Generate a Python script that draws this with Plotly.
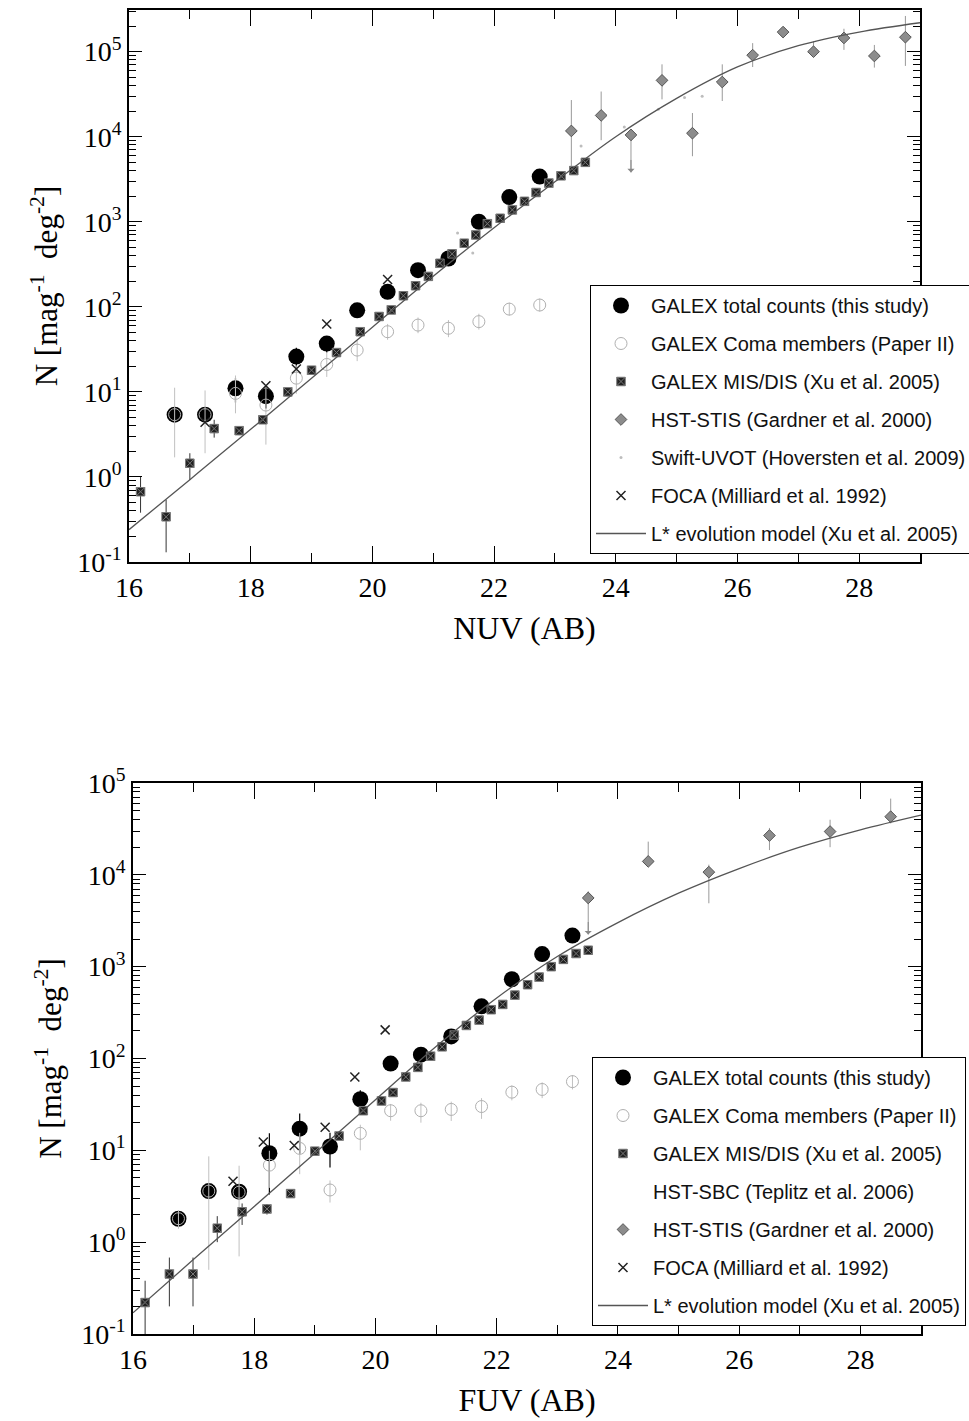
import math
import plotly.graph_objects as go

# ---------------- NUV (top panel) ----------------
nuv_total_x = [16.75, 17.25, 17.75, 18.25, 18.75, 19.25, 19.75, 20.25, 20.75, 21.25, 21.75, 22.25, 22.75]
nuv_total_y = [5.4, 5.4, 11, 8.9, 26, 37, 91, 150, 270, 370, 1000, 1950, 3400]
nuv_total_err = [1.0, 1.0, 3.5, 2.5, 7, 8, 15, 20, 30, 40, 80, 120, 200]

nuv_coma_x = [16.75, 17.25, 17.75, 18.25, 18.75, 19.25, 19.75, 20.25, 20.75, 21.25, 21.75, 22.25, 22.75]
nuv_coma_y = [5.4, 5.4, 9.6, 7.0, 14.5, 21, 31, 51, 61, 56, 67, 94, 105]
nuv_coma_plus = [5.8, 5.0, 6.0, 5.0, 6.0, 8.0, 9.0, 12, 14, 14, 16, 18, 20]
nuv_coma_minus = [3.7, 3.5, 4.0, 4.6, 5.0, 6.0, 8.0, 10, 12, 12, 13, 15, 17]

nuv_xu_x = [16.19, 16.61, 17.0, 17.4, 17.81, 18.2, 18.61, 19.0, 19.41, 19.8, 20.11, 20.31, 20.51, 20.71,
            20.92, 21.11, 21.31, 21.51, 21.70, 21.89, 22.1, 22.3, 22.5, 22.69, 22.9, 23.1, 23.31, 23.5]
nuv_xu_y = [0.67, 0.34, 1.45, 3.7, 3.5, 4.7, 10, 18, 29, 51, 77, 92, 135, 177,
            228, 325, 420, 560, 700, 950, 1100, 1380, 1740, 2210, 2850, 3470, 4000, 5000]
nuv_xu_plus = [0.33, 0.20, 0.45, 1.0, 0.4, 0.5, 0.8, 1.2, 2, 3, 4, 5, 7, 9,
               11, 15, 20, 25, 30, 40, 45, 55, 70, 90, 110, 140, 160, 200]
nuv_xu_minus = [0.29, 0.21, 0.53, 0.8, 0.4, 0.5, 0.8, 1.2, 2, 3, 4, 5, 7, 9,
                11, 15, 20, 25, 30, 40, 45, 55, 70, 90, 110, 140, 160, 200]

nuv_hst_x = [23.27, 23.76, 24.25, 24.76, 25.26, 25.75, 26.25, 26.75, 27.25, 27.75, 28.25, 28.76]
nuv_hst_y = [11700, 17800, 10500, 46000, 11000, 44000, 91000, 170000, 100000, 145000, 89000, 148000]
nuv_hst_hi = [27000, 34000, 10500, 71000, 19000, 71000, 126000, 190000, 132000, 186000, 120000, 263000]
nuv_hst_lo = [4500, 9100, 3800, 27500, 5900, 26300, 66000, 150000, 87000, 105000, 65000, 68000]
nuv_hst_limits = [24.25]  # upper limits (arrows)

nuv_swift_x = [21.4, 21.65, 23.43, 24.14, 24.7, 25.13, 25.42]
nuv_swift_y = [740, 430, 7800, 13000, 21000, 29000, 30000]

nuv_foca_x = [17.25, 18.25, 18.75, 19.25, 20.25]
nuv_foca_y = [4.4, 11.8, 18.6, 63, 210]

nuv_model_x = [16, 17, 18, 19, 20, 21, 22, 23, 24, 25, 26, 27, 28, 29]
nuv_model_y = [0.24, 0.93, 3.63, 14.5, 57.5, 229, 851, 2950, 10000, 28200, 66100, 117500, 170000, 219000]

# ---------------- FUV (bottom panel) ----------------
fuv_total_x = [16.75, 17.25, 17.75, 18.25, 18.75, 19.25, 19.75, 20.25, 20.75, 21.25, 21.75, 22.25, 22.75, 23.25]
fuv_total_y = [1.8, 3.6, 3.55, 9.3, 17.2, 11, 36, 88, 110, 174, 370, 730, 1370, 2180]
fuv_total_err = [0.2, 0.3, 0.3, 6, 8, 4.5, 9, 15, 15, 20, 40, 60, 100, 150]

fuv_coma_x = [16.75, 17.25, 17.75, 18.25, 18.75, 19.25, 19.75, 20.25, 20.75, 21.25, 21.75, 22.25, 22.75, 23.25]
fuv_coma_y = [1.8, 3.6, 3.5, 6.9, 10.5, 3.7, 15.3, 27, 27, 27.9, 30, 43, 46, 56]
fuv_coma_plus = [0.4, 5.0, 3.3, 3.0, 5.0, 1.0, 3.7, 5.0, 6.0, 6.0, 7.0, 8.0, 9.0, 10]
fuv_coma_minus = [0.4, 3.1, 2.8, 3.0, 5.0, 1.0, 5.3, 6.0, 7.0, 7.0, 8.0, 8.0, 9.0, 10]

fuv_xu_x = [16.2, 16.6, 16.99, 17.39, 17.8, 18.21, 18.6, 19.0, 19.4, 19.8, 20.1, 20.29, 20.5, 20.7,
            20.91, 21.1, 21.3, 21.5, 21.71, 21.91, 22.1, 22.3, 22.51, 22.7, 22.9, 23.1, 23.31, 23.51]
fuv_xu_y = [0.22, 0.45, 0.45, 1.42, 2.14, 2.3, 3.38, 9.8, 14.3, 27, 34.5, 42.6, 63, 80,
            106, 134, 180, 229, 262, 340, 388, 490, 636, 770, 1000, 1200, 1390, 1510]
fuv_xu_plus = [0.16, 0.23, 0.23, 0.5, 0.5, 0.3, 0.3, 0.8, 1.0, 2, 2.5, 3, 4, 5,
               6, 8, 10, 12, 14, 18, 20, 25, 30, 35, 45, 55, 60, 70]
fuv_xu_minus = [0.12, 0.25, 0.25, 0.42, 0.6, 0.3, 0.3, 0.8, 1.0, 2, 2.5, 3, 4, 5,
                6, 8, 10, 12, 14, 18, 20, 25, 30, 35, 45, 55, 60, 70]

fuv_sbc_x = [None]  # HST-SBC: listed in legend, no visible points
fuv_sbc_y = [None]

fuv_hst_x = [23.51, 24.5, 25.5, 26.5, 27.5, 28.5]
fuv_hst_y = [5600, 14000, 10700, 26800, 29600, 43000]
fuv_hst_hi = [6600, 23000, 12900, 32400, 39800, 67600]
fuv_hst_lo = [2240, 14000, 4900, 18600, 20000, 36300]
fuv_hst_limits = [23.51]

fuv_foca_x = [17.65, 18.15, 18.66, 19.17, 19.66, 20.16]
fuv_foca_y = [4.6, 12.3, 11.3, 17.8, 63, 205]

fuv_model_x = [16, 17, 18, 19, 20, 21, 22, 23, 24, 25, 26, 27, 28, 29]
fuv_model_y = [0.17, 0.65, 2.45, 9.3, 35.5, 135, 457, 1290, 3020, 6310, 11700, 20000, 30900, 44700]

x_ticks = [16, 18, 20, 22, 24, 26, 28]
x_minor = [17, 19, 21, 23, 25, 27, 29]
y_exponents_top = [-1, 0, 1, 2, 3, 4, 5]
y_exponents_bot = [-1, 0, 1, 2, 3, 4, 5]

W, H = 969, 1421
SERIF = "Liberation Serif"
SANS = "Liberation Sans"

fig = go.Figure()


def add_panel(xa, ya, leg, total, coma, xu, hst, foca, model, extra_swift=None, sbc=None):
    tx, ty, te = total
    cx, cy, cp, cm = coma
    ux, uy, up, um = xu
    hx, hy, hhi, hlo = hst
    fx, fy = foca
    mx, my = model
    common = dict(xaxis=xa, yaxis=ya, legend=leg)

    fig.add_trace(go.Scatter(
        x=tx, y=ty, mode="markers", name="GALEX total counts (this study)",
        legendgroup=leg + "a",
        marker=dict(symbol="circle", size=16, color="black"),
        error_y=dict(type="data", array=te, color="black", thickness=1.2, width=0),
        **common))
    fig.add_trace(go.Scatter(
        x=cx, y=cy, mode="markers", name="GALEX Coma members (Paper II)",
        legendgroup=leg + "b",
        marker=dict(symbol="circle-open", size=12, color="#b0b0b0", line=dict(width=1)),
        error_y=dict(type="data", symmetric=False, array=cp, arrayminus=cm,
                     color="#c0c0c0", thickness=1, width=0),
        **common))
    fig.add_trace(go.Scatter(
        x=ux, y=uy, mode="markers", name="GALEX MIS/DIS (Xu et al. 2005)",
        legendgroup=leg + "c",
        marker=dict(symbol="square-x", size=8.5, color="#222222", line=dict(width=1, color="#777777")),
        error_y=dict(type="data", symmetric=False, array=up, arrayminus=um,
                     color="#333333", thickness=1, width=0),
        **common))
    if sbc is not None:
        fig.add_trace(go.Scatter(
            x=sbc[0], y=sbc[1], mode="markers", name="HST-SBC (Teplitz et al. 2006)",
            legendgroup=leg + "d",
            marker=dict(symbol="circle", size=6, color="white"),
            **common))
    hp = [max(h - v, 0) for h, v in zip(hhi, hy)]
    hm = [max(v - l, 0) for l, v in zip(hlo, hy)]
    fig.add_trace(go.Scatter(
        x=hx, y=hy, mode="markers", name="HST-STIS (Gardner et al. 2000)",
        legendgroup=leg + "e",
        marker=dict(symbol="diamond", size=9, color="#8c8c8c", line=dict(width=1, color="#555555")),
        error_y=dict(type="data", symmetric=False, array=hp, arrayminus=hm,
                     color="#999999", thickness=1, width=0),
        **common))
    if extra_swift is not None:
        fig.add_trace(go.Scatter(
            x=extra_swift[0], y=extra_swift[1], mode="markers",
            name="Swift-UVOT (Hoversten et al. 2009)",
            legendgroup=leg + "f",
            marker=dict(symbol="circle", size=3, color="#bdbdbd"),
            **common))
    fig.add_trace(go.Scatter(
        x=fx, y=fy, mode="markers", name="FOCA (Milliard et al. 1992)",
        legendgroup=leg + "g",
        marker=dict(symbol="x-thin-open", size=9, color="#222222", line=dict(width=1.5, color="#222222")),
        **common))
    fig.add_trace(go.Scatter(
        x=mx, y=my, mode="lines", name="L* evolution model (Xu et al. 2005)",
        legendgroup=leg + "h",
        line=dict(color="#555555", width=1.3, shape="spline", smoothing=1.0),
        **common))


add_panel("x", "y", "legend",
          (nuv_total_x, nuv_total_y, nuv_total_err),
          (nuv_coma_x, nuv_coma_y, nuv_coma_plus, nuv_coma_minus),
          (nuv_xu_x, nuv_xu_y, nuv_xu_plus, nuv_xu_minus),
          (nuv_hst_x, nuv_hst_y, nuv_hst_hi, nuv_hst_lo),
          (nuv_foca_x, nuv_foca_y),
          (nuv_model_x, nuv_model_y),
          extra_swift=(nuv_swift_x, nuv_swift_y))

add_panel("x2", "y2", "legend2",
          (fuv_total_x, fuv_total_y, fuv_total_err),
          (fuv_coma_x, fuv_coma_y, fuv_coma_plus, fuv_coma_minus),
          (fuv_xu_x, fuv_xu_y, fuv_xu_plus, fuv_xu_minus),
          (fuv_hst_x, fuv_hst_y, fuv_hst_hi, fuv_hst_lo),
          (fuv_foca_x, fuv_foca_y),
          (fuv_model_x, fuv_model_y),
          sbc=(fuv_sbc_x, fuv_sbc_y))

# upper-limit arrows
annotations = []
for lim_list, hx, hlo, xr, yr in [(nuv_hst_limits, nuv_hst_x, nuv_hst_lo, "x", "y"),
                                  (fuv_hst_limits, fuv_hst_x, fuv_hst_lo, "x2", "y2")]:
    for xv in lim_list:
        i = hx.index(xv)
        annotations.append(dict(x=xv, y=math.log10(hlo[i]), xref=xr, yref=yr, text="",
                                showarrow=True, ax=0, ay=-14, arrowhead=1, arrowsize=1.2,
                                arrowwidth=1, arrowcolor="#888888"))


def xaxis_cfg(dom, anchor, title):
    return dict(domain=dom, anchor=anchor, range=[16, 29], automargin=False,
                tickmode="array", tickvals=x_ticks, ticktext=[str(v) for v in x_ticks],
                ticks="inside", ticklen=16, tickwidth=1.2, tickcolor="black",
                minor=dict(tickmode="array", tickvals=x_minor, ticks="inside", ticklen=9,
                           tickwidth=1.2, tickcolor="black", showgrid=False),
                showline=True, linecolor="black", linewidth=1.5, mirror="allticks",
                showgrid=False, zeroline=False,
                tickfont=dict(family=SERIF, size=28, color="black"),
                title=dict(text=title, font=dict(family=SERIF, size=32, color="black"), standoff=14))


def yaxis_cfg(dom, anchor, rng, exps):
    minor_vals = [m * 10 ** k for k in range(exps[0], exps[-1] + 1) for m in range(2, 10)]
    return dict(domain=dom, anchor=anchor, type="log", range=rng, automargin=False,
                tickmode="array", tickvals=[10 ** k for k in exps],
                ticktext=["10<sup>%d</sup>" % k for k in exps],
                ticks="inside", ticklen=13, tickwidth=1.2, tickcolor="black",
                minor=dict(tickmode="array", tickvals=minor_vals, ticks="inside", ticklen=7,
                           tickwidth=1, tickcolor="black", showgrid=False),
                showline=True, linecolor="black", linewidth=1.5, mirror="allticks",
                showgrid=False, zeroline=False,
                tickfont=dict(family=SERIF, size=28, color="black"),
                title=dict(text="N [mag<sup>-1</sup>  deg<sup>-2</sup>]",
                           font=dict(family=SERIF, size=31, color="black"), standoff=10))


legend_common = dict(xanchor="left", yanchor="top", bgcolor="white", bordercolor="black",
                     borderwidth=1, font=dict(family=SANS, size=20, color="#111111"),
                     tracegroupgap=9, itemwidth=50, traceorder="grouped")

fig.update_layout(
    width=W, height=H, margin=dict(l=0, r=0, t=0, b=0, autoexpand=False),
    paper_bgcolor="white", plot_bgcolor="white",
    showlegend=True,
    xaxis=xaxis_cfg([129 / W, 920 / W], "y", "NUV (AB)"),
    yaxis=yaxis_cfg([1 - 562 / H, 1 - 10 / H], "x", [-1, 5.49], y_exponents_top),
    xaxis2=xaxis_cfg([133 / W, 921 / W], "y2", "FUV (AB)"),
    yaxis2=yaxis_cfg([1 - 1334 / H, 1 - 783 / H], "x2", [-1, 5], y_exponents_bot),
    legend=dict(x=590 / W, y=1 - 285 / H, **legend_common),
    legend2=dict(x=592 / W, y=1 - 1057 / H, **legend_common),
    annotations=annotations,
)

fig.write_html("out.html",
               config={"displayModeBar": False},
               post_script="document.body.style.margin='0px';document.body.style.overflow='hidden';")
